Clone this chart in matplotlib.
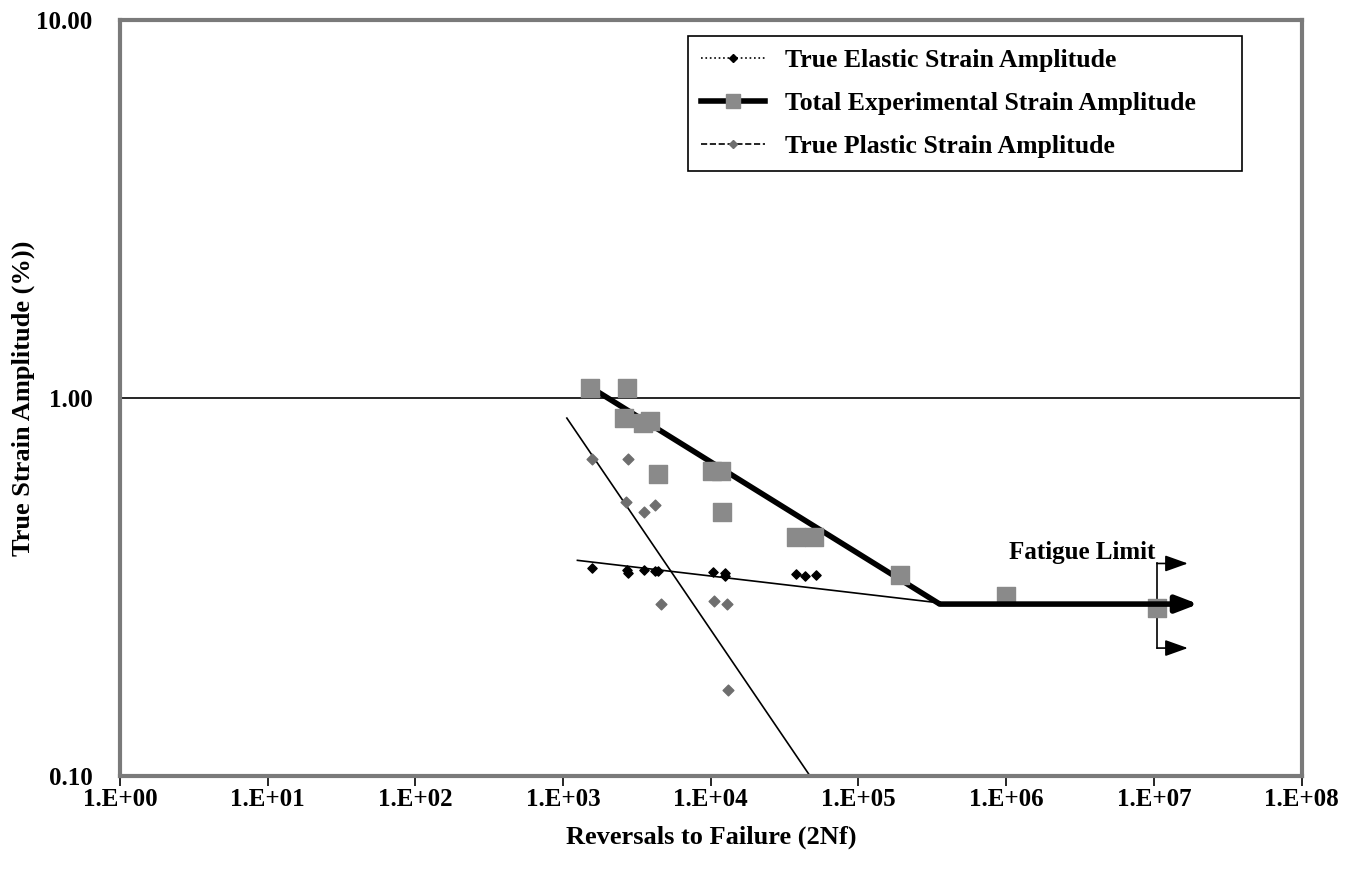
import matplotlib
matplotlib.use('Agg')
from matplotlib import pyplot as plt
from matplotlib.lines import Line2D
import numpy as np

plt.rcParams['font.family'] = ['Liberation Serif', 'DejaVu Serif']

# total experimental strain amplitude (%), squares
total_n = [1520, 2700, 2570, 3470, 3900, 4370, 10200, 11800, 12000, 38000, 50000, 190000, 1.0e6, 1.05e7]
total_eps = [1.06, 1.06, 0.885, 0.86, 0.87, 0.63, 0.64, 0.64, 0.50, 0.43, 0.43, 0.34, 0.30, 0.278]

# true elastic strain amplitude (%), small black diamonds
elastic_n = [1560, 2700, 2750, 3530, 4200, 4370, 10300, 12400, 12400, 38000, 43500, 51500]
elastic_eps = [0.355, 0.351, 0.345, 0.351, 0.349, 0.349, 0.347, 0.345, 0.338, 0.342, 0.338, 0.340]

# true plastic strain amplitude (%), gray diamonds
plastic_n = [1560, 2750, 2650, 3530, 4200, 4600, 10500, 12800, 13000]
plastic_eps = [0.69, 0.69, 0.53, 0.50, 0.52, 0.285, 0.29, 0.285, 0.169]

# fitted lines
elastic_fit_n = [1250, 355000]
elastic_fit_eps = [0.372, 0.287]
plastic_fit_n = [1060, 47000]
plastic_fit_eps = [0.885, 0.10]
total_fit_n = [1520, 355000, 2.0e7]
total_fit_eps = [1.07, 0.285, 0.285]

fig = plt.figure(figsize=(13.69, 8.81), dpi=100)
ax = fig.add_axes([0.0877, 0.1192, 0.863, 0.858])
ax.set_xscale('log')
ax.set_yscale('log')
ax.set_xlim(1, 1e8)
ax.set_ylim(0.1, 10)

ax.axhline(1.0, color='black', lw=1.2)

ax.plot(elastic_fit_n, elastic_fit_eps, color='black', lw=1.2)
ax.plot(plastic_fit_n, plastic_fit_eps, color='black', lw=1.2)
ax.plot(total_fit_n[:2], total_fit_eps[:2], color='black', lw=4, solid_capstyle='butt')

ax.scatter(total_n, total_eps, marker='s', s=160, color='#8a8a8a', zorder=3)
ax.scatter(plastic_n, plastic_eps, marker='D', s=30, color='#6e6e6e', zorder=3)
ax.scatter(elastic_n, elastic_eps, marker='D', s=22, color='black', zorder=3)

# fatigue limit arrows
ax.annotate('', xy=(total_fit_n[2], total_fit_eps[2]), xytext=(total_fit_n[1], total_fit_eps[1]),
            arrowprops=dict(arrowstyle='-|>,head_length=1.3,head_width=0.5', color='black', lw=4,
                            shrinkA=0, shrinkB=0))
xb = 1.05e7
ax.plot([xb, xb], [0.218, 0.365], color='black', lw=1.2)
for yy in (0.365, 0.218):
    ax.annotate('', xy=(1.7e7, yy), xytext=(xb, yy),
                arrowprops=dict(arrowstyle='-|>,head_length=1.4,head_width=0.5', color='black', lw=1.2,
                                shrinkA=0, shrinkB=0))
ax.text(1.02e7, 0.375, 'Fatigue Limit', fontsize=18, fontweight='bold', ha='right', va='baseline')

for s in ax.spines.values():
    s.set_color('#7a7a7a')
    s.set_linewidth(3)

ax.set_xticks([10.0 ** k for k in range(9)])
ax.set_xticklabels(['1.E+%02d' % k for k in range(9)])
ax.set_yticks([0.1, 1, 10])
ax.set_yticklabels(['0.10', '1.00', '10.00'])
ax.minorticks_off()
ax.tick_params(axis='x', direction='out', length=7, width=1.2, pad=2, labelsize=18)
ax.tick_params(axis='y', direction='out', length=0, pad=20, labelsize=18)
for lab in ax.get_xticklabels() + ax.get_yticklabels():
    lab.set_fontweight('bold')

ax.set_xlabel('Reversals to Failure (2Nf)', fontsize=19, fontweight='bold', labelpad=10)
ax.set_ylabel('True Strain Amplitude (%))', fontsize=19, fontweight='bold', labelpad=1)

handles = [
    Line2D([], [], color='black', lw=1.2, ls=':', marker='D', ms=4, mfc='black'),
    Line2D([], [], color='black', lw=4, marker='s', ms=10, mfc='#8a8a8a', mec='#8a8a8a'),
    Line2D([], [], color='black', lw=1.2, ls='--', marker='D', ms=4, mfc='#6e6e6e', mec='#6e6e6e'),
]
labels = ['True Elastic Strain Amplitude', 'Total Experimental Strain Amplitude', 'True Plastic Strain Amplitude']
leg = ax.legend(handles, labels, loc='upper left', bbox_to_anchor=(0.4805, 0.979, 0.4695, 0), mode='expand',
                borderaxespad=0, fancybox=False, edgecolor='black', framealpha=1,
                prop={'size': 18.5, 'weight': 'bold'},
                handlelength=2.5, handletextpad=0.8, labelspacing=0.78, borderpad=0.5)
leg.get_frame().set_linewidth(1.2)

fig.savefig('out.png', dpi=100)
